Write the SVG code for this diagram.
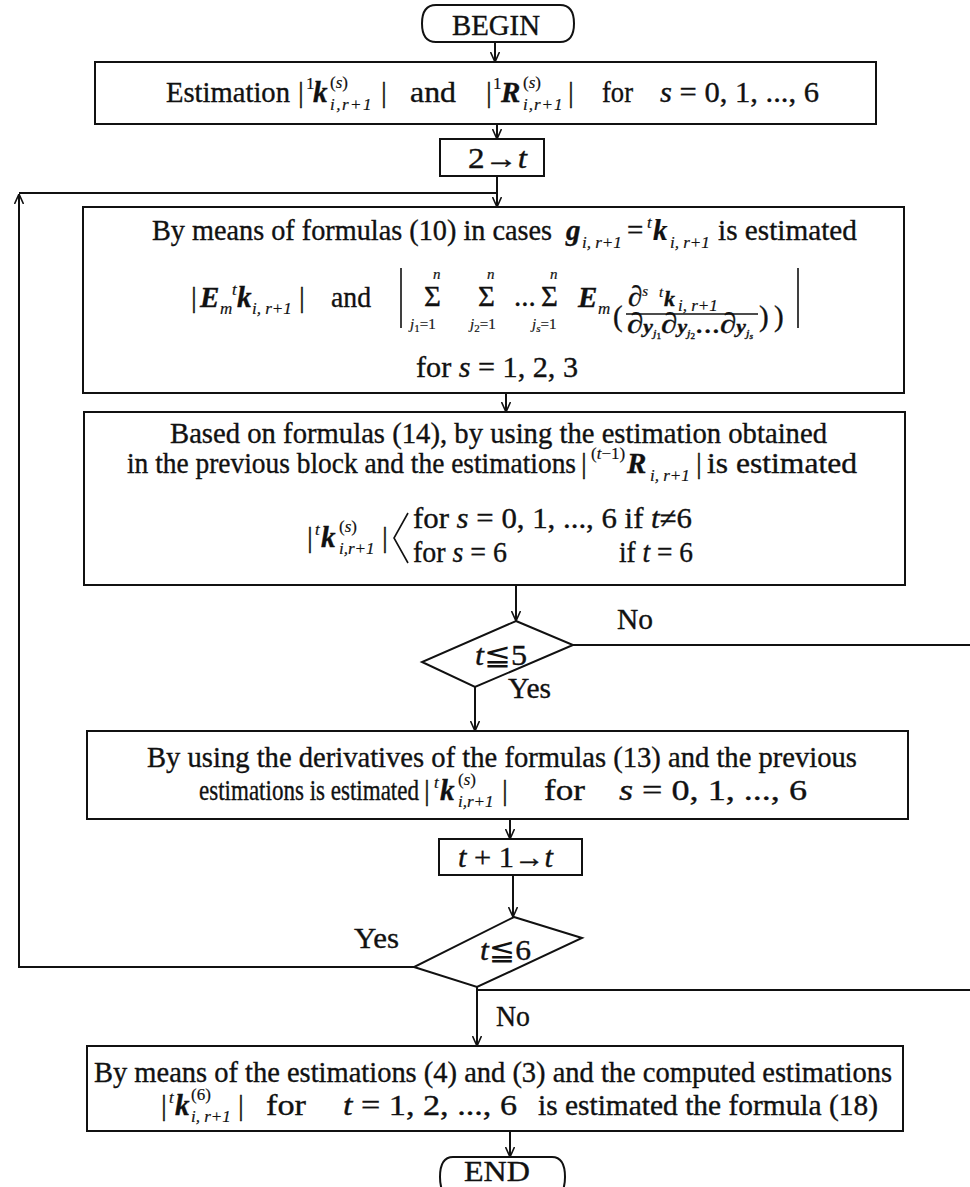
<svg xmlns="http://www.w3.org/2000/svg" width="970" height="1187" viewBox="0 0 970 1187">
<style>
text { font-family: "Liberation Serif", "DejaVu Serif", serif; font-size: 29px; fill: #111; stroke: #111; stroke-width: 0.35; }
.s { font-size: 17px; stroke-width: 0.2; }
.xs { font-size: 15px; stroke-width: 0.2; }
.sub { font-size: 17px; font-style: italic; font-weight: normal; stroke-width: 0.2; }
.i { font-style: italic; }
.b { font-style: italic; font-weight: bold; }
.m { font-family: "DejaVu Serif", "DejaVu Sans", "Noto Sans CJK JP", serif; font-weight: normal; stroke-width: 0; }
.box { fill: #fff; stroke: #111; stroke-width: 2; }
.ln { fill: none; stroke: #111; stroke-width: 2; }
.th { fill: none; stroke: #111; stroke-width: 1.6; }
</style>
<defs>
<marker id="ah" viewBox="0 0 10 10" refX="10" refY="5" markerWidth="10" markerHeight="10" markerUnits="userSpaceOnUse" orient="auto">
<path d="M0,0.5 L10,5 L0,9.5" fill="none" stroke="#111" stroke-width="1.6"/>
</marker>
</defs>
<rect width="970" height="1187" fill="#fff"/>

<g id="connectors">
<path class="ln" d="M495 42 V62" marker-end="url(#ah)"/>
<path class="ln" d="M497 124 V139" marker-end="url(#ah)"/>
<path class="ln" d="M497 176 V207" marker-end="url(#ah)"/>
<path class="ln" d="M414 967 H19 V194" marker-end="url(#ah)"/>
<path class="ln" d="M19 193 H497"/>
<path class="ln" d="M506 393 V412" marker-end="url(#ah)"/>
<path class="ln" d="M516 585 V621" marker-end="url(#ah)"/>
<path class="ln" d="M573 645 H970"/>
<path class="ln" d="M475 687 V731" marker-end="url(#ah)"/>
<path class="ln" d="M510 819 V839" marker-end="url(#ah)"/>
<path class="ln" d="M513 875 V917" marker-end="url(#ah)"/>
<path class="ln" d="M477 990 H970"/>
<path class="ln" d="M477 987 V1046" marker-end="url(#ah)"/>
<path class="ln" d="M510 1131 V1157" marker-end="url(#ah)"/>
</g>

<g id="begin">
<path class="box" d="M436 5 H560 Q574 5 574 23.5 Q574 42 560 42 H436 Q422 42 422 23.5 Q422 5 436 5 Z"/>
<text x="452" y="35" textLength="88" lengthAdjust="spacingAndGlyphs">BEGIN</text>
</g>

<g id="estimation">
<rect class="box" x="95" y="62" width="781" height="62"/>
<text x="166" y="102" textLength="124" lengthAdjust="spacingAndGlyphs">Estimation</text>
<text x="298" y="102">|<tspan class="s" x="306" y="89">1</tspan><tspan class="b" x="313" y="102">k</tspan><tspan class="s" x="330" y="88">(<tspan class="i">s</tspan>)</tspan><tspan class="sub" x="330" y="110" letter-spacing="1.5">i,r+1</tspan><tspan x="381" y="102">|</tspan></text>
<text x="410" y="102" textLength="46" lengthAdjust="spacingAndGlyphs">and</text>
<text x="486" y="102">|<tspan class="s" x="493" y="89">1</tspan><tspan class="b" x="501" y="102">R</tspan><tspan class="s" x="523" y="88">(<tspan class="i">s</tspan>)</tspan><tspan class="sub" x="523" y="110" letter-spacing="1">i,r+1</tspan><tspan x="568" y="102">|</tspan></text>
<text x="602" y="102" textLength="31" lengthAdjust="spacingAndGlyphs">for</text>
<text x="660" y="102" textLength="159" lengthAdjust="spacingAndGlyphs"><tspan class="i">s</tspan> = 0, 1, ..., 6</text>
</g>

<g id="init">
<rect class="box" x="440" y="139" width="104" height="37"/>
<text x="468" y="168" textLength="59" lengthAdjust="spacingAndGlyphs">2→<tspan class="i">t</tspan></text>
</g>

<g id="block10">
<rect class="box" x="83" y="207" width="821" height="186"/>
<text x="152" y="240" textLength="400" lengthAdjust="spacingAndGlyphs">By means of formulas (10) in cases</text>
<text class="b" x="566" y="240">g<tspan class="sub" x="582" y="248">i, r+1</tspan></text>
<text x="627" y="240">=</text>
<text class="s i" x="647" y="228">t<tspan class="b" font-size="29" x="653" y="240">k</tspan><tspan class="sub" x="670" y="248">i, r+1</tspan></text>
<text x="718" y="240" textLength="139" lengthAdjust="spacingAndGlyphs">is estimated</text>

<text x="191" y="307">|<tspan class="b" x="200" y="307">E</tspan><tspan class="sub" x="220" y="314">m</tspan><tspan class="s i" x="232" y="295">t</tspan><tspan class="b" x="237" y="307">k</tspan><tspan class="sub" x="252" y="314">i, r+1</tspan><tspan x="299" y="307">|</tspan></text>
<text x="331" y="307" textLength="40" lengthAdjust="spacingAndGlyphs">and</text>
<path class="th" d="M401 268 V328 M798 268 V328"/>
<text x="424" y="306" font-size="35" stroke-width="0">Σ<tspan class="xs i" x="433" y="279">n</tspan><tspan class="xs" x="410" y="329"><tspan class="i">j</tspan><tspan font-size="11" y="332">1</tspan><tspan y="329">=1</tspan></tspan></text>
<text x="478" y="306" font-size="35" stroke-width="0">Σ<tspan class="xs i" x="487" y="279">n</tspan><tspan class="xs" x="470" y="329"><tspan class="i">j</tspan><tspan font-size="11" y="332">2</tspan><tspan y="329">=1</tspan></tspan></text>
<text x="514" y="306" font-size="24">...</text>
<text x="541" y="306" font-size="35" stroke-width="0">Σ<tspan class="xs i" x="550" y="279">n</tspan><tspan class="xs" x="532" y="329"><tspan class="i">j</tspan><tspan class="i" font-size="11" y="332">s</tspan><tspan y="329">=1</tspan></tspan></text>
<text class="b" x="578" y="307">E<tspan class="sub" x="598" y="314">m</tspan></text>
<text x="613" y="326" font-size="40" stroke-width="0">(</text>
<text x="628" y="306" font-size="20">∂<tspan class="xs i" y="296">s</tspan><tspan class="xs i" x="659" y="297">t</tspan><tspan class="b" font-size="22" x="664" y="306">k</tspan><tspan class="sub" font-size="14" x="678" y="311">i, r+1</tspan></text>
<path class="th" d="M626 314 H758"/>
<text x="627" y="333" font-size="18" textLength="126" lengthAdjust="spacingAndGlyphs">∂<tspan class="b" font-size="19">y</tspan><tspan class="i" font-size="11" y="337">j</tspan><tspan font-size="8" y="339">1</tspan><tspan y="333">∂</tspan><tspan class="b" font-size="19">y</tspan><tspan class="i" font-size="11" y="337">j</tspan><tspan font-size="8" y="339">2</tspan><tspan y="333">...∂</tspan><tspan class="b" font-size="19">y</tspan><tspan class="i" font-size="11" y="337">j</tspan><tspan class="i" font-size="8" y="339">s</tspan></text>
<text x="759" y="326" font-size="40" stroke-width="0">)</text>
<text x="774" y="326" font-size="40" stroke-width="0">)</text>
<text x="416" y="377" textLength="162" lengthAdjust="spacingAndGlyphs">for <tspan class="i">s</tspan> = 1, 2, 3</text>
</g>

<g id="block14">
<rect class="box" x="84" y="412" width="821" height="173"/>
<text x="170" y="443" textLength="657" lengthAdjust="spacingAndGlyphs">Based on formulas (14), by using the estimation obtained</text>
<text x="127" y="473" textLength="449" lengthAdjust="spacingAndGlyphs">in the previous block and the estimations</text>
<text x="581" y="473">|<tspan class="s" x="591" y="459">(<tspan class="i">t</tspan>−1)</tspan><tspan class="b" x="627" y="473">R</tspan><tspan class="sub" x="650" y="481">i, r+1</tspan><tspan x="696" y="473">|</tspan></text>
<text x="707" y="473" textLength="150" lengthAdjust="spacingAndGlyphs">is estimated</text>

<text x="307" y="547">|<tspan class="s i" x="315" y="535">t</tspan><tspan class="b" x="321" y="547">k</tspan><tspan class="s" x="339" y="532">(<tspan class="i">s</tspan>)</tspan><tspan class="sub" x="339" y="554">i,r+1</tspan><tspan x="382" y="547">|</tspan></text>
<path class="th" d="M408 513 L394 538 L408 563"/>
<text x="413" y="528" textLength="279" lengthAdjust="spacingAndGlyphs">for <tspan class="i">s</tspan> = 0, 1, ..., 6 if <tspan class="i">t</tspan>≠6</text>
<text x="413" y="562" textLength="94" lengthAdjust="spacingAndGlyphs">for <tspan class="i">s</tspan> = 6</text>
<text x="619" y="562" textLength="74" lengthAdjust="spacingAndGlyphs">if <tspan class="i">t</tspan> = 6</text>
</g>

<g id="test5">
<path class="box" d="M516 621 L573 645 L475 687 L422 662 Z"/>
<text x="475" y="665" textLength="52" lengthAdjust="spacingAndGlyphs"><tspan class="i">t</tspan><tspan class="m">≦</tspan>5</text>
<text x="617" y="629" textLength="36" lengthAdjust="spacingAndGlyphs">No</text>
<text x="508" y="698" textLength="43" lengthAdjust="spacingAndGlyphs">Yes</text>
</g>

<g id="block13">
<rect class="box" x="87" y="731" width="821" height="88"/>
<text x="147" y="767" textLength="710" lengthAdjust="spacingAndGlyphs">By using the derivatives of the formulas (13) and the previous</text>
<text x="199" y="800" textLength="220" lengthAdjust="spacingAndGlyphs">estimations is estimated</text>
<text x="424" y="800">|<tspan class="s i" x="434" y="788">t</tspan><tspan class="b" x="440" y="800">k</tspan><tspan class="s" x="458" y="785">(<tspan class="i">s</tspan>)</tspan><tspan class="sub" x="458" y="807">i,r+1</tspan><tspan x="502" y="800">|</tspan></text>
<text x="544" y="800" textLength="41" lengthAdjust="spacingAndGlyphs">for</text>
<text x="619" y="800" textLength="188" lengthAdjust="spacingAndGlyphs"><tspan class="i">s</tspan> = 0, 1, ..., 6</text>
</g>

<g id="increment">
<rect class="box" x="439" y="839" width="143" height="36"/>
<text x="458" y="867" textLength="95" lengthAdjust="spacingAndGlyphs"><tspan class="i">t</tspan> + 1→<tspan class="i">t</tspan></text>
</g>

<g id="test6">
<path class="box" d="M514 917 L582 938 L477 987 L414 967 Z"/>
<text x="480" y="960" textLength="51" lengthAdjust="spacingAndGlyphs"><tspan class="i">t</tspan><tspan class="m">≦</tspan>6</text>
<text x="354" y="948" textLength="45" lengthAdjust="spacingAndGlyphs">Yes</text>
<text x="496" y="1026" textLength="34" lengthAdjust="spacingAndGlyphs">No</text>
</g>

<g id="final">
<rect class="box" x="87" y="1046" width="816" height="85"/>
<text x="94" y="1082" textLength="798" lengthAdjust="spacingAndGlyphs">By means of the estimations (4) and (3) and the computed estimations</text>
<text x="161" y="1115">|<tspan class="s i" x="169" y="1103">t</tspan><tspan class="b" x="175" y="1115">k</tspan><tspan class="s" x="191" y="1100">(6)</tspan><tspan class="sub" x="191" y="1122">i, r+1</tspan><tspan x="238" y="1115">|</tspan></text>
<text x="266" y="1115" textLength="40" lengthAdjust="spacingAndGlyphs">for</text>
<text x="343" y="1115" textLength="174" lengthAdjust="spacingAndGlyphs"><tspan class="i">t</tspan> = 1, 2, ..., 6</text>
<text x="538" y="1115" textLength="340" lengthAdjust="spacingAndGlyphs">is estimated the formula (18)</text>
</g>

<g id="end">
<path class="box" d="M453 1157 H552 Q565 1157 565 1177 Q565 1197 552 1197 H453 Q440 1197 440 1177 Q440 1157 453 1157 Z"/>
<text x="464" y="1181" textLength="66" lengthAdjust="spacingAndGlyphs">END</text>
</g>
</svg>
